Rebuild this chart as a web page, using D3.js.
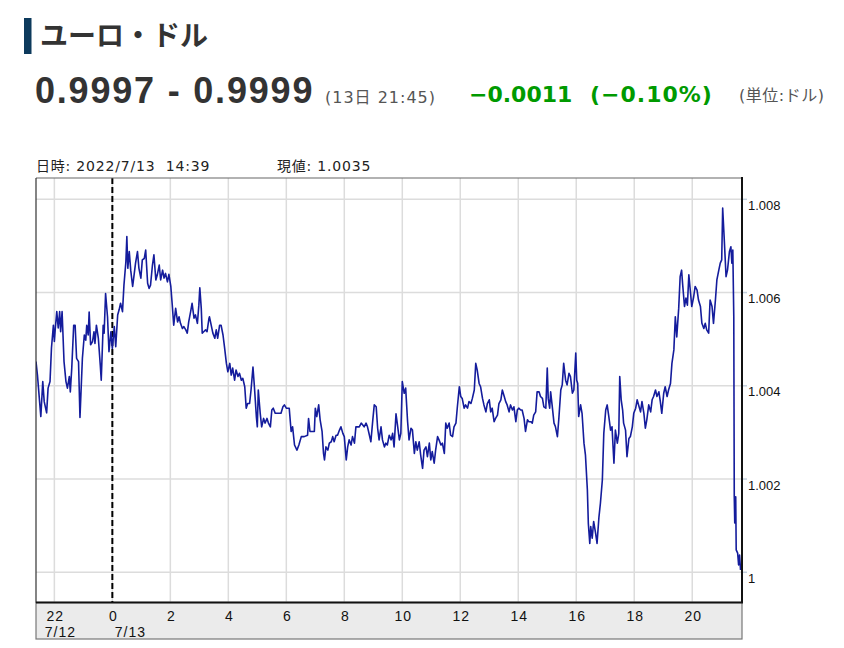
<!DOCTYPE html>
<html><head><meta charset="utf-8">
<script src="https://cdn.jsdelivr.net/npm/d3@7"></script>
<style>
body{margin:0;background:#fff;}
svg text{font-family:"DejaVu Sans","Noto Sans CJK JP",sans-serif;}
</style></head><body>
<svg id="c" width="844" height="648"></svg>
<script>
// ---------- text ----------
const title = "ユーロ・ドル";
const quote = "0.9997 - 0.9999";
const quoteTime = "(13日 21:45)";
const changeAbs = "−0.0011";
const changePct = "(−0.10%)";
const unitText = "(単位:ドル)";
const cursorInfo = "日時: 2022/7/13\u00a0\u00a014:39";
const cursorValue = "現値: 1.0035";

// ---------- data ----------
const startTime = new Date(2022, 6, 12, 21, 0); // minutes counted from 7/12 21:00
const xExtentMinutes = [22, 1483];
const yDomain = [0.999352, 1.008457];
const yTicks = [1, 1.002, 1.004, 1.006, 1.008];
const dayTickMinutes = [60, 180];
const dayTickLabels = ["7/12", "7/13"];
const dayBreakMinute = 180;

const minutes = [
22,25,30,32,36,39,44,47,51,54,58,60,62,65,68,71,73,76,80,84,
87,91,93,96,100,103,106,110,113,118,122,125,127,130,132,135,139,142,144,147,
151,155,157,161,163,166,170,173,177,180,184,187,191,194,197,201,204,208,210,212,
215,218,222,225,228,232,235,239,242,246,249,253,256,259,263,266,270,273,277,280,
284,287,290,294,297,301,304,307,311,315,318,321,325,328,332,335,338,342,345,349,
352,356,359,361,364,366,369,373,376,380,
381,388,392,395,398,402,405,409,412,416,419,423,426,429,433,436,440,443,447,450,
454,457,460,464,467,471,474,478,480,482,486,489,493,496,500,503,507,510,513,517,
522,529,533,536,540,546,550,553,557,562,566,571,577,584,586,589,598,600,603,607,
610,614,617,619,622,626,629,633,636,639,643,646,650,653,657,660,664,667,670,674,
677,681,684,691,695,701,705,708,712,715,719,722,726,729,732,736,739,743,746,749,
753,757,760,763,
767,770,774,777,780,784,787,791,794,798,801,805,808,811,815,818,822,825,829,832,
836,839,842,846,849,853,856,860,863,867,870,873,877,880,884,887,891,894,898,901,
904,908,911,915,918,922,925,929,932,935,939,942,946,949,953,956,960,963,966,970,
973,977,980,984,987,991,994,997,1001,1004,1008,1011,1015,1018,1021,1025,1028,1032,1035,1039,
1042,1046,1049,1052,1056,1059,1063,1066,1070,1073,1077,1080,1082,1085,1087,1090,1094,1097,1101,1104,
1108,1111,1114,1118,1121,1125,1128,1132,1135,1139,1141,1143,1145,1149,1152,1156,1159,1163,1165,1168,
1170,1173,1176,1180,1183,1187,1190,1194,1197,1201,1204,1207,1211,1214,1218,1221,1225,1228,1230,1233,
1236,1238,1242,1245,1249,1252,1256,1259,1263,1266,1269,1273,1276,1280,1283,1286,1290,1294,1297,1300,
1304,1307,1311,1314,1317,1321,1324,1328,1331,1335,1338,1342,
1345,1348,1352,1355,1358,1360,1364,1367,1370,1373,1376,1379,1383,1386,1390,1393,1397,1400,1404,1407,
1410,1414,1417,1421,1424,1428,1431,1435,1438,1441,1443,1446,1450,1453,1457,1460,1462,1464,1466,1467,
1468,1470,1471,1474,1476,1478,1480
];

const rates = [
1.00452,1.00423,1.00359,1.00334,1.00409,1.00366,1.00342,1.00395,1.00409,1.00481,
1.0053,1.00495,1.00524,1.00559,1.00524,1.00559,1.00516,1.00559,1.00452,1.00409,
1.00395,1.0042,1.00387,1.00438,1.0053,1.0053,1.00459,1.00452,1.00332,1.00459,
1.00509,1.00498,1.0053,1.00509,1.00558,1.00488,1.00495,1.00516,1.00491,1.0053,
1.00502,1.00445,1.00412,1.0053,1.00513,1.00598,1.00548,1.00473,1.00516,1.0048,
1.00527,1.00484,1.00552,1.00563,1.00577,1.00559,1.00616,1.00666,1.0072,1.00652,
1.00688,1.00648,1.00613,1.00638,1.00663,1.00688,1.00652,1.00631,1.0067,1.00673,
1.00691,1.0062,1.00609,1.00616,1.00659,1.00681,1.00627,1.00638,1.00659,1.00627,
1.00648,1.00631,1.00641,1.00623,1.00639,1.00613,1.00573,1.0053,1.00566,1.00537,
1.00548,1.00534,1.00523,1.00527,1.0052,1.00513,1.00537,1.00559,1.00577,1.00545,
1.00552,1.00534,1.00573,1.0061,1.00566,1.00513,1.00516,1.0052,1.00516,1.00545,
1.00548,1.00513,1.00502,1.0052,1.00502,1.0053,1.0053,1.00509,1.00484,1.00448,
1.0043,1.00448,1.00423,1.00438,1.00412,1.00434,1.0042,1.00427,1.00412,1.00416,
1.00398,1.00352,1.00362,1.00362,1.00391,1.0044,1.00398,1.00334,1.00312,1.00391,
1.00341,1.00312,1.0033,1.0032,1.0033,1.0032,1.00312,1.00348,1.00352,1.00341,
1.00341,1.00341,1.00355,1.00359,1.00352,1.00352,1.00302,1.00312,1.00273,1.00262,
1.00273,1.00291,1.00291,1.00294,1.0033,1.00302,1.00302,1.00352,1.00334,1.00359,
1.00327,1.00302,1.00255,1.00241,1.00269,1.00262,1.00277,1.0028,1.00291,1.0028,
1.00294,1.00294,1.00305,1.00312,1.00298,1.00291,1.00241,1.00269,1.00284,1.00273,
1.00291,1.00277,1.00312,1.00312,1.0032,1.00312,1.0032,1.00312,1.00294,1.0028,
1.00327,1.00359,1.00355,1.00309,1.00284,1.00312,1.00284,1.00269,1.00277,1.00273,
1.00294,1.00284,1.00298,1.00269,
1.0034,1.00316,1.00284,1.00298,1.00409,1.00384,1.00395,1.00323,1.00284,1.00309,
1.00305,1.00255,1.0028,1.00262,1.0028,1.00252,1.00223,1.00262,1.00269,1.00248,
1.00277,1.00241,1.00259,1.00234,1.00262,1.00291,1.00284,1.00273,1.00277,1.00255,
1.0032,1.00309,1.0032,1.00294,1.00291,1.00312,1.0032,1.00355,1.00398,1.00377,
1.00373,1.00352,1.00359,1.00352,1.00366,1.00362,1.00373,1.00391,1.00448,1.00434,
1.00405,1.00398,1.00373,1.00359,1.00344,1.00362,1.0037,1.00344,1.00352,1.00323,
1.0033,1.00337,1.00362,1.0037,1.00391,1.00377,1.00366,1.00359,1.00344,1.00359,
1.00348,1.00355,1.00323,1.00348,1.00352,1.00348,1.00348,1.0033,1.00302,1.00327,
1.00323,1.00323,1.0032,1.00337,1.00344,1.00387,1.00387,1.00377,1.00373,1.00355,
1.00352,1.00438,1.00373,1.00352,1.00387,1.00359,1.0032,1.00312,1.00291,1.0033,
1.00391,1.00402,1.00448,1.00412,1.00402,1.00427,1.0042,1.00384,1.00391,1.0047,
1.00412,1.00405,1.00334,1.00359,1.00341,1.00277,1.00252,1.00177,1.00105,1.00062,
1.00098,1.00073,1.00109,1.00084,1.00062,1.00119,1.00148,1.00198,1.00298,1.00348,
1.00359,1.00337,1.00305,1.00312,1.00234,1.00305,1.00277,1.00298,1.0042,1.0037,
1.00348,1.0032,1.00305,1.00248,1.00287,1.00291,1.00312,1.00341,1.00352,1.0037,
1.00359,1.00344,1.00366,1.00341,1.00309,1.00327,1.00359,1.00344,1.0037,1.00377,
1.00391,1.00377,1.00387,1.00366,1.00341,1.00384,1.00398,1.00377,1.00391,1.00405,
1.00448,1.00477,
1.00548,1.00505,1.00566,1.00634,1.00648,1.0062,1.0057,1.00588,1.00573,1.00638,
1.00605,1.0057,1.00591,1.00613,1.00605,1.00584,1.0057,1.00534,1.00523,1.00534,
1.0052,1.00513,1.00584,1.0057,1.00534,1.00584,1.00627,1.00648,1.00663,1.0067,
1.00781,1.0072,1.00634,1.00648,1.00688,1.00698,1.00663,1.00691,1.00548,1.00162,
1.00106,1.00162,1.00048,1.00041,1.00016,1.00037,1.00005
];

// ---------- chart ----------
const svg = d3.select("#c");
const L = 36, R = 742, T = 178, B = 602.5, bandBottom = 639;
const t0 = startTime.getTime();
const toDate = m => new Date(t0 + m * 60000);
const data = minutes.map((m, i) => ({ t: toDate(m), v: rates[i] }));

const x = d3.scaleTime().domain(xExtentMinutes.map(toDate)).range([L, R]);
const y = d3.scaleLinear().domain(yDomain).range([B, T]);

// header
svg.append("rect").attr("x", 24).attr("y", 18).attr("width", 7.5).attr("height", 36).attr("fill", "#0d3a5c");
svg.append("text").attr("x", 40).attr("y", 45.5).text(title)
  .style("font-family", "'Noto Sans CJK JP',sans-serif").style("font-weight", "700")
  .style("font-size", "28px").attr("fill", "#333");
svg.append("text").attr("x", 35).attr("y", 103.3).text(quote)
  .style("font-family", "'Liberation Sans',Arial,sans-serif").style("font-weight", "700")
  .style("font-size", "36px").style("letter-spacing", "1.8px").attr("fill", "#333");
svg.append("text").attr("x", 325).attr("y", 103).text(quoteTime)
  .style("font-size", "16px").style("letter-spacing", "1px").attr("fill", "#555");
svg.append("text").attr("x", 469).attr("y", 101.7).text(changeAbs)
  .style("font-weight", "700").style("font-size", "22px").attr("fill", "#009a00");
svg.append("text").attr("x", 590).attr("y", 101.7).text(changePct)
  .style("font-weight", "700").style("font-size", "22px").style("letter-spacing", "1px").attr("fill", "#009a00");
svg.append("text").attr("x", 739).attr("y", 100.8).text(unitText)
  .style("font-size", "16px").style("letter-spacing", "0.5px").attr("fill", "#555");

svg.append("text").attr("x", 36).attr("y", 170.5).text(cursorInfo)
  .style("font-size", "14px").style("letter-spacing", "0.8px").attr("fill", "#222");
svg.append("text").attr("x", 277).attr("y", 170.5).text(cursorValue)
  .style("font-size", "14px").style("letter-spacing", "0.8px").attr("fill", "#222");

// bottom label band
svg.append("rect").attr("x", L).attr("y", B).attr("width", R - L).attr("height", bandBottom - B)
  .attr("fill", "#ebebeb").attr("stroke", "#777").attr("stroke-width", 1.2);

// grid
const xTicks = x.ticks(d3.timeHour.every(2));
svg.append("g").selectAll("line").data(xTicks).join("line")
  .attr("x1", d => x(d)).attr("x2", d => x(d)).attr("y1", T).attr("y2", B)
  .attr("stroke", "#dcdcdc").attr("stroke-width", 1.5);
svg.append("g").selectAll("line").data(yTicks).join("line")
  .attr("x1", L).attr("x2", R).attr("y1", d => y(d)).attr("y2", d => y(d))
  .attr("stroke", "#dcdcdc").attr("stroke-width", 1.5);
svg.append("g").selectAll("line").data(yTicks).join("line")
  .attr("x1", R).attr("x2", R + 5).attr("y1", d => y(d)).attr("y2", d => y(d))
  .attr("stroke", "#c3cfdc").attr("stroke-width", 1.5);

// clip
svg.append("clipPath").attr("id", "plot").append("rect")
  .attr("x", L).attr("y", T).attr("width", R - L).attr("height", B - T);

// day break
svg.append("line").attr("x1", x(toDate(dayBreakMinute))).attr("x2", x(toDate(dayBreakMinute)))
  .attr("y1", T).attr("y2", B).attr("stroke", "#000").attr("stroke-width", 2)
  .attr("stroke-dasharray", "6,3");

// line
const line = d3.line().x(d => x(d.t)).y(d => y(d.v));
svg.append("path").datum(data).attr("d", line).attr("clip-path", "url(#plot)")
  .attr("fill", "none").attr("stroke", "#141c9c").attr("stroke-width", 1.6)
  .attr("stroke-linejoin", "round");

// frame
svg.append("line").attr("x1", L).attr("x2", R).attr("y1", T).attr("y2", T).attr("stroke", "#666").attr("stroke-width", 1.2);
svg.append("line").attr("x1", L).attr("x2", L).attr("y1", T).attr("y2", B).attr("stroke", "#333").attr("stroke-width", 1.2);
svg.append("line").attr("x1", R).attr("x2", R).attr("y1", T - 1).attr("y2", B).attr("stroke", "#111").attr("stroke-width", 2);
svg.append("line").attr("x1", L).attr("x2", R + 1).attr("y1", B).attr("y2", B).attr("stroke", "#111").attr("stroke-width", 2);

// axis labels
const hourFmt = d3.timeFormat("%-H");
svg.append("g").selectAll("text").data(xTicks).join("text")
  .attr("x", d => x(d) + 1).attr("y", 620.7).attr("text-anchor", "middle")
  .text(d => hourFmt(d))
  .style("font-family", "'Liberation Sans',Arial,sans-serif").style("font-size", "14px")
  .style("letter-spacing", "1px").attr("fill", "#111");
const dayOffsets = [6, 18];
svg.append("g").selectAll("text").data(dayTickMinutes).join("text")
  .attr("x", (d, i) => x(toDate(d)) + dayOffsets[i]).attr("y", 636.7).attr("text-anchor", "middle")
  .text((d, i) => dayTickLabels[i])
  .style("font-family", "'Liberation Sans',Arial,sans-serif").style("font-size", "14px")
  .style("letter-spacing", "1px").attr("fill", "#111");
const yFmt = d => d3.format(".3f")(d).replace(/\.?0+$/, "");
svg.append("g").selectAll("text").data(yTicks).join("text")
  .attr("x", R + 6).attr("y", d => y(d) + 10.5).text(yFmt)
  .style("font-family", "'Liberation Sans',Arial,sans-serif").style("font-size", "13px")
  .attr("fill", "#111");
</script>
</body></html>
